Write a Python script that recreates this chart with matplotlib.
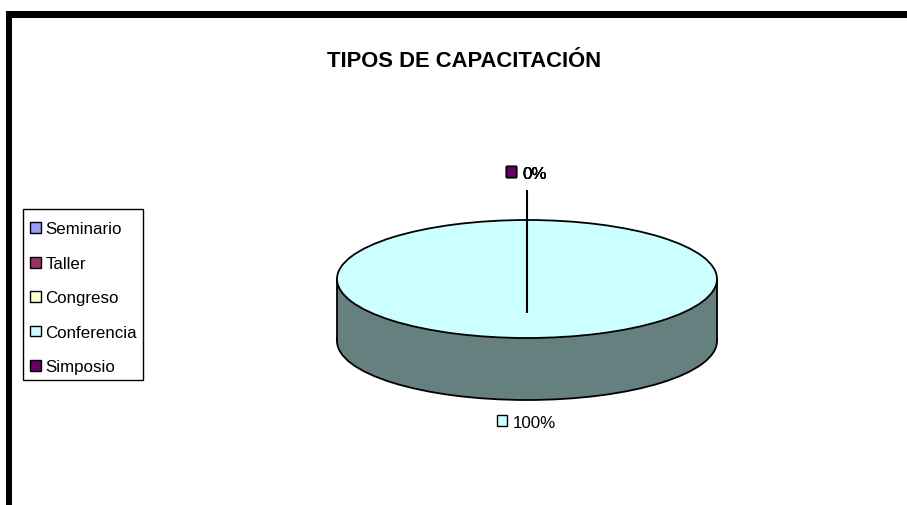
import matplotlib
matplotlib.use('Agg')
import matplotlib.pyplot as plt
from matplotlib.patches import Patch, Rectangle

plt.rcParams['font.family'] = ['Liberation Sans', 'DejaVu Sans']

title = 'TIPOS DE CAPACITACIÓN'
categories = ['Seminario', 'Taller', 'Congreso', 'Conferencia', 'Simposio']
values = [0, 0, 0, 100, 0]
colors = ['#9999FF', '#993366', '#FFFFCC', '#CCFFFF', '#660066']
side_colors = ['#4C4C80', '#4C1A33', '#808066', '#668080', '#330033']

W, H = 907, 506
# pie geometry in pixels
cx, cy = 527, 280
rx, ry = 190, 59
depth = 62

fig = plt.figure(figsize=(W / 100, H / 100), dpi=100, facecolor='white')

# overlay in pixel coordinates for frame, title, labels
bg = fig.add_axes([0, 0, 1, 1])
bg.set_xlim(0, W)
bg.set_ylim(H, 0)
bg.axis('off')
bg.add_patch(Rectangle((6, 12), W - 6, 7, color='black', lw=0))
bg.add_patch(Rectangle((6, 12), 6, H - 12, color='black', lw=0))
bg.text(464.5, 61, title, ha='center', va='center', fontsize=15.8, fontweight='bold')

# flattened axes: one data unit is rx pixels across and ry pixels down
ax = fig.add_axes([0, 0, 1, 1], frameon=False)
ax.patch.set_alpha(0)

edge = {'edgecolor': 'black', 'linewidth': 1.3}
ax.pie(values, colors=side_colors, startangle=90, counterclock=False,
       center=(0, -depth / ry), wedgeprops=edge)
ax.add_patch(Rectangle((-1, -depth / ry), 2, depth / ry, facecolor=side_colors[3], lw=0, zorder=2))
ax.plot([-1, -1], [-depth / ry, 0], color='black', lw=1.3, zorder=3)
ax.plot([1, 1], [-depth / ry, 0], color='black', lw=1.3, zorder=3)
wedges, _ = ax.pie(values, colors=colors, startangle=90, counterclock=False, wedgeprops=edge)
for w in wedges:
    w.set_zorder(4)
ax.set_aspect('auto')
ax.set_xlim(-cx / rx, (W - cx) / rx)
ax.set_ylim((cy - H) / ry, cy / ry)
ax.set_xticks([])
ax.set_yticks([])

# leader line and data labels
bg.set_zorder(5)
bg.plot([cx, cx], [191, 314], color='black', lw=1.5, solid_capstyle='butt')
total = sum(values)
offset = 0
for name, val, col in zip(categories, values, colors):
    share = '%d%%' % round(100 * val / total)
    if val > 0:
        bg.add_patch(Rectangle((497, 416), 10, 11, facecolor=col, edgecolor='black', lw=1))
        bg.text(513, 424, share, ha='left', va='center', fontsize=12.2)
    else:
        # the zero slices all stack on one spot, which makes the text look heavy
        bg.text(522 + offset, 174, share, ha='left', va='center', fontsize=12.2)
        bg.add_patch(Rectangle((506, 167), 10, 11, facecolor=col, edgecolor='black', lw=1))
        offset += 0.2

# box drawn by hand, its padding differs across and down
bg.add_patch(Rectangle((23, 210), 120, 171, facecolor='white', edgecolor='black', lw=1))
handles = [Patch(facecolor=c, edgecolor='black', linewidth=1) for c in colors]
bg.legend(handles, categories, loc='upper left', bbox_to_anchor=(30 / W, 1 - 222.5 / H),
          bbox_transform=fig.transFigure, fontsize=12.2, frameon=False, borderaxespad=0,
          borderpad=0, labelspacing=1.15, handlelength=0.62, handleheight=0.62,
          handletextpad=0.28)

plt.savefig('out.png', dpi=100)
